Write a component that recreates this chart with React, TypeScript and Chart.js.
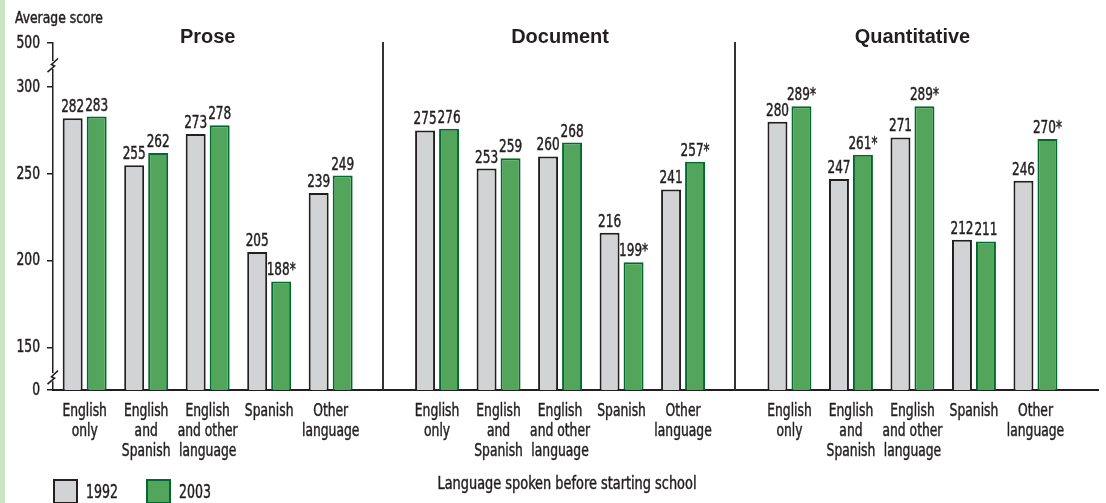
import React, { useEffect, useRef } from "react";
import { Chart, registerables } from "chart.js";

Chart.register(...registerables);

// ---------- data ----------
const panelTitles = ["Prose", "Document", "Quantitative"];
const categories: string[][] = [
  ["English", "only"],
  ["English", "and", "Spanish"],
  ["English", "and other", "language"],
  ["Spanish"],
  ["Other", "language"],
];
const seriesLabels = ["1992", "2003"];
const prose1992 = [282, 255, 273, 205, 239];
const prose2003 = [283, 262, 278, 188, 249];
const document1992 = [275, 253, 260, 216, 241];
const document2003 = [276, 259, 268, 199, 257];
const quantitative1992 = [280, 247, 271, 212, 246];
const quantitative2003 = [289, 261, 289, 211, 270];
const prose2003Significant = [false, false, false, true, false];
const document2003Significant = [false, false, false, true, true];
const quantitative2003Significant = [true, true, true, false, true];
const yTickLabels = [0, 150, 200, 250, 300, 500];
const yAxisTitle = "Average score";
const xAxisTitle = "Language spoken before starting school";

// ---------- layout / style constants ----------
const W = 1106;
const H = 503;
const PANEL_STRIDE = 5.73;
const Y0 = 125.4; // axis position standing for 0 (broken axis)
const Y500 = 325.4; // axis position standing for 500 (broken axis)
const FONT = "'DejaVu Sans Condensed', 'DejaVu Sans', 'Liberation Sans', sans-serif";
const BOLD = "'Liberation Sans', Arial, sans-serif";
const INK = "#231f20";
const GRAY_FILL = "#d1d3d4";
const GREEN_FILL = "#52a55b";
const GREEN_EDGE = "#006a2e";

function toAxis(v: number): number {
  if (v <= 150) return Y0 + (v * (150 - Y0)) / 150;
  if (v <= 300) return v;
  return 300 + ((v - 300) * (Y500 - 300)) / 200;
}

const values1992 = [prose1992, document1992, quantitative1992];
const values2003 = [prose2003, document2003, quantitative2003];
const significant2003 = [prose2003Significant, document2003Significant, quantitative2003Significant];

function buildPoints(series: number[][]) {
  const pts: { x: number; y: number }[] = [];
  series.forEach((vals, pi) =>
    vals.forEach((v, gi) => pts.push({ x: pi * PANEL_STRIDE + gi, y: toAxis(v) }))
  );
  return pts;
}

const groupPositions: number[] = [];
panelTitles.forEach((_, pi) => categories.forEach((__, gi) => groupPositions.push(pi * PANEL_STRIDE + gi)));

const rawValues = [values1992.flat(), values2003.flat()];
const rawSig = [values1992.flat().map(() => false), significant2003.flat()];

// condensed text: horizontal scale chosen so that `sample` is `sampleWidth` px wide
function condensedScale(ctx: CanvasRenderingContext2D, sample: string, sampleWidth: number) {
  const w = ctx.measureText(sample).width;
  return w > 0 ? Math.min(1, sampleWidth / w) : 1;
}
function drawText(ctx: CanvasRenderingContext2D, text: string, x: number, y: number, align: CanvasTextAlign, sx: number) {
  ctx.save();
  ctx.translate(x, y);
  ctx.scale(sx, 1);
  ctx.textAlign = align;
  ctx.fillText(text, 0, 0);
  ctx.strokeStyle = ctx.fillStyle as string;
  ctx.lineWidth = 0.45;
  ctx.strokeText(text, 0, 0);
  ctx.restore();
}

const decorPlugin = {
  id: "decor",
  beforeDraw(chart: any) {
    const ctx = chart.ctx;
    ctx.save();
    ctx.fillStyle = "#ffffff";
    ctx.fillRect(0, 0, W, H);
    ctx.fillStyle = "#c9e5c3";
    ctx.fillRect(0, 0, 5, H);
    ctx.restore();
  },
  afterDraw(chart: any) {
    const ctx: CanvasRenderingContext2D = chart.ctx;
    const xs = chart.scales.x;
    const ys = chart.scales.y;
    const area = chart.chartArea;
    ctx.save();
    ctx.fillStyle = INK;
    ctx.textBaseline = "alphabetic";

    // y axis title
    ctx.font = `16px ${FONT}`;
    drawText(ctx, yAxisTitle, 15, 23, "left", condensedScale(ctx, yAxisTitle, 88));

    // y tick labels
    ctx.font = `17px ${FONT}`;
    let sx = condensedScale(ctx, "500", 23.5);
    ctx.textBaseline = "middle";
    yTickLabels.forEach((v) => {
      drawText(ctx, String(v), 40, ys.getPixelForValue(toAxis(v)) + 0.5, "right", sx);
    });
    ctx.textBaseline = "alphabetic";

    // panel titles
    ctx.font = `bold 20px ${BOLD}`;
    ctx.textAlign = "center";
    panelTitles.forEach((t, pi) => {
      ctx.fillText(t, xs.getPixelForValue(pi * PANEL_STRIDE + 2), 43);
    });

    // dividers
    ctx.strokeStyle = "#333333";
    ctx.lineWidth = 2;
    for (let pi = 0; pi < panelTitles.length - 1; pi++) {
      const x = Math.round(xs.getPixelForValue(pi * PANEL_STRIDE + 4 + (PANEL_STRIDE - 4) / 2)) - 1;
      ctx.beginPath();
      ctx.moveTo(x, 42);
      ctx.lineTo(x, area.bottom);
      ctx.stroke();
    }

    // axis breaks
    const ax = area.left;
    [400, 45].forEach((v) => {
      const cy = ys.getPixelForValue(toAxis(v));
      ctx.fillStyle = "#ffffff";
      ctx.fillRect(ax - 2, cy - 4, 4, 8);
      ctx.strokeStyle = INK;
      ctx.lineWidth = 1.6;
      ctx.beginPath();
      ctx.moveTo(ax - 5.5, cy + 7);
      ctx.lineTo(ax + 1.5, cy + 1);
      ctx.lineTo(ax - 1.5, cy - 0.5);
      ctx.lineTo(ax + 5, cy - 6.5);
      ctx.stroke();
    });
    ctx.fillStyle = INK;

    // x tick labels (category names)
    ctx.font = `17px ${FONT}`;
    sx = condensedScale(ctx, "English", 44.5);
    groupPositions.forEach((pos, i) => {
      const lines = categories[i % categories.length];
      const x = xs.getPixelForValue(pos);
      lines.forEach((ln, li) => drawText(ctx, ln, x, 416 + li * 20, "center", sx));
    });

    // bar value labels
    ctx.font = `17px ${FONT}`;
    sx = condensedScale(ctx, "282", 23);
    chart.data.datasets.forEach((ds: any, di: number) => {
      const meta = chart.getDatasetMeta(di);
      meta.data.forEach((bar: any, i: number) => {
        const txt = String(rawValues[di][i]) + (rawSig[di][i] ? "*" : "");
        drawText(ctx, txt, bar.x, bar.y - 6, "center", sx);
      });
    });

    // x axis title
    ctx.font = `17px ${FONT}`;
    drawText(ctx, xAxisTitle, 567, 489, "center", condensedScale(ctx, xAxisTitle, 259));

    // legend
    const legendX = [53, 146];
    chart.data.datasets.forEach((ds: any, di: number) => {
      const x = legendX[di];
      ctx.fillStyle = ds.backgroundColor;
      ctx.fillRect(x, 479, 25, 25);
      ctx.strokeStyle = ds.borderColor;
      ctx.lineWidth = 2;
      ctx.strokeRect(x + 1, 480, 23, 23);
      ctx.fillStyle = INK;
      ctx.font = `20px ${FONT}`;
      drawText(ctx, ds.label, x + 33, 498, "left", condensedScale(ctx, "1992", 32));
    });

    ctx.restore();
  },
};

export default function App() {
  const ref = useRef<HTMLCanvasElement | null>(null);

  useEffect(() => {
    if (!ref.current) return;
    const chart = new Chart(ref.current, {
      type: "bar",
      data: {
        datasets: [
          {
            label: seriesLabels[0],
            data: buildPoints(values1992),
            backgroundColor: GRAY_FILL,
            borderColor: INK,
            borderWidth: 2,
            borderSkipped: "bottom",
          },
          {
            label: seriesLabels[1],
            data: buildPoints(values2003),
            backgroundColor: GREEN_FILL,
            borderColor: GREEN_EDGE,
            borderWidth: 2,
            borderSkipped: "bottom",
          },
        ] as any,
      },
      plugins: [decorPlugin],
      options: {
        animation: false,
        responsive: false,
        devicePixelRatio: 1,
        layout: { padding: { top: 43, right: 8, left: 0, bottom: 0 } },
        datasets: { bar: { categoryPercentage: 0.78, barPercentage: 0.833, grouped: true } } as any,
        plugins: {
          legend: { display: false },
          tooltip: { enabled: false },
        },
        scales: {
          x: {
            type: "linear",
            min: -0.515,
            max: 16.477,
            offset: false,
            grid: { display: false, drawTicks: false },
            border: { display: true, color: INK, width: 2 },
            afterBuildTicks: (scale: any) => {
              scale.ticks = groupPositions.map((v) => ({ value: v }));
            },
            afterFit: (scale: any) => {
              scale.height = 113;
            },
            ticks: { display: false, autoSkip: false, maxRotation: 0, minRotation: 0 },
          },
          y: {
            type: "linear",
            min: Y0,
            max: Y500,
            grid: { display: true, drawOnChartArea: false, drawTicks: true, tickLength: 6, color: INK, lineWidth: 1.5 },
            border: { display: true, color: INK, width: 1.5 },
            afterBuildTicks: (scale: any) => {
              scale.ticks = yTickLabels.map((v) => ({ value: toAxis(v) }));
            },
            afterFit: (scale: any) => {
              scale.width = 53;
            },
            ticks: { display: false },
          },
        },
      } as any,
    });
    return () => chart.destroy();
  }, []);

  return (
    <div style={{ position: "absolute", left: 0, top: 0, width: W, height: H, background: "#fff" }}>
      <canvas ref={ref} width={W} height={H} style={{ display: "block", width: W, height: H }} />
    </div>
  );
}
